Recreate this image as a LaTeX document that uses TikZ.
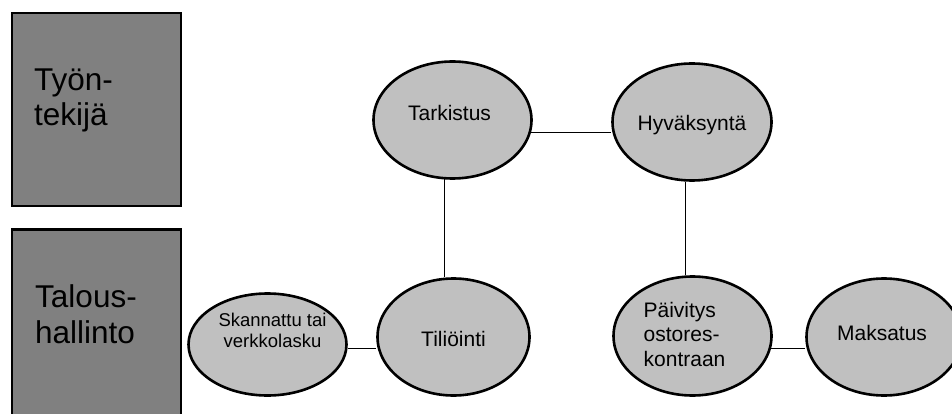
\documentclass[tikz,border=0pt]{standalone}
\usepackage{fontspec}
\setmainfont{Liberation Sans}
\usetikzlibrary{shapes.geometric}
\definecolor{lanegray}{HTML}{808080}
\definecolor{procgray}{HTML}{C0C0C0}
\begin{document}
\begin{tikzpicture}[x=1pt,y=-1pt,
  lane/.style={draw=black,line width=2.6pt,fill=lanegray,inner sep=0pt,minimum width=169pt},
  lanetext/.style={font=\fontsize{31.5}{35.5}\selectfont,align=left,inner sep=0pt,anchor=west},
  proc/.style={ellipse,draw=black,line width=2.6pt,fill=procgray,inner sep=0pt},
  proctext/.style={font=\fontsize{21}{24.5}\selectfont,inner sep=0pt},
  link/.style={draw=black,line width=1.3pt}]
\useasboundingbox (0,0) rectangle (952,414);
\node[lane,minimum height=193pt] (tyo) at (96.5,109.5) {};
\node[lane,minimum height=200pt] (talous) at (96.5,329.3) {};
\node[lanetext] (tyotxt) at (34,100.5) {Työn-\\tekijä};
\node[lanetext] (taloustxt) at (35,314) {Talous-\\hallinto};
\node[proc,minimum width=158pt,minimum height=117pt,label={[proctext,xshift=-3pt,yshift=7.5pt]center:Tarkistus}] (tark) at (452.5,120) {};
\node[proc,minimum width=159pt,minimum height=117pt,label={[proctext,yshift=-3pt]center:Hyväksyntä}] (hyv) at (692,122) {};
\node[proc,minimum width=158pt,minimum height=102pt,label={[proctext,font=\fontsize{18.5}{20.5}\selectfont,align=center,xshift=5pt,yshift=14pt]center:Skannattu tai\\verkkolasku}] (skan) at (267.5,344.5) {};
\node[proc,minimum width=152pt,minimum height=117pt,label={[proctext,yshift=-1.5pt]center:Tiliöinti}] (tili) at (453.5,337) {};
\node[proc,minimum width=158pt,minimum height=119pt,label={[proctext,align=left,xshift=-8pt,yshift=2pt]center:Päivitys\\ostores-\\kontraan}] (paiv) at (692.5,336) {};
\node[proc,minimum width=155pt,minimum height=117pt,label={[proctext,xshift=-2pt,yshift=4.5pt]center:Maksatus}] (maks) at (884,337) {};
\draw[link] (tark.262) -- (tark.262 |- tili.north);
\draw[link] (tark.-9) -- (tark.-9 -| hyv.west);
\draw[link] (hyv.264) -- (hyv.264 |- paiv.north);
\draw[link] (skan.-3) -- (skan.-3 -| tili.west);
\draw[link] (paiv.-9) -- (paiv.-9 -| maks.west);
\end{tikzpicture}
\end{document}
